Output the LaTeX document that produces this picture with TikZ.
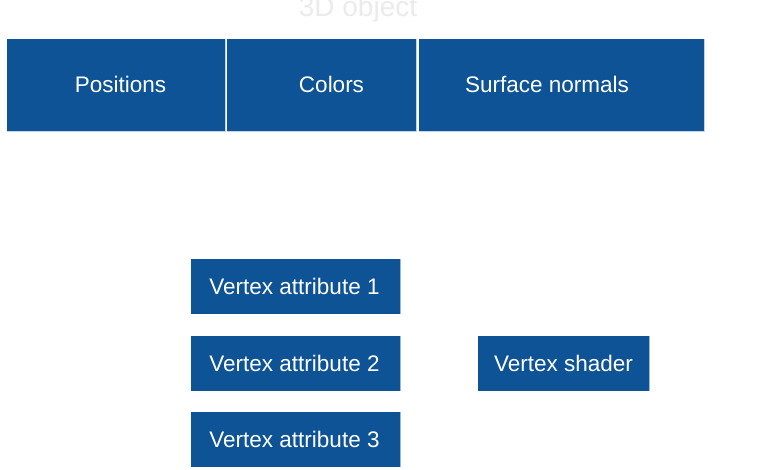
\documentclass[tikz,border=0pt]{standalone}
\usepackage{fontspec}
\setmainfont{Liberation Sans}
\definecolor{boxblue}{HTML}{0D5395}
\definecolor{edgeblue}{HTML}{9DB8D6}
\tikzset{
  blk/.style={fill=boxblue, draw=none, inner sep=0pt, outer sep=0pt},
  lbl/.style={text=white, inner sep=0pt, font=\fontsize{22.5}{26}\selectfont, anchor=base},
  ghost/.style={text=black!8, inner sep=0pt, font=\fontsize{28}{32}\selectfont, anchor=base}
}
\begin{document}
\begin{tikzpicture}[x=1pt,y=-1pt]
  \useasboundingbox (0,0) rectangle (770,470);
  \fill[white] (0,0) rectangle (770,470);

  % heading, mostly cut off by the top edge
  \begin{scope}
    \clip (0,0) rectangle (770,470);
    \node[ghost] (head) at (358,17) {3D object};
  \end{scope}

  % attribute groups of the mesh
  \draw[edgeblue!60, line width=0.6pt, fill=boxblue] (7,39) rectangle (225,131);
  \draw[edgeblue!60, line width=0.6pt, fill=boxblue] (227,39) rectangle (416,131);
  \draw[edgeblue!60, line width=0.6pt, fill=boxblue] (419,39) rectangle (704,131);
  \node[blk, minimum width=218pt, minimum height=92pt] (pos) at (116,85) {};
  \node[blk, minimum width=189pt, minimum height=92pt] (col) at (321.5,85) {};
  \node[blk, minimum width=285pt, minimum height=92pt] (nrm) at (561.5,85) {};
  \node[lbl] (posT) at (120.5,93) {Positions};
  \node[lbl] (colT) at (331.5,93) {Colors};
  \node[lbl] (nrmT) at (547,93) {Surface normals};

  % vertex attributes
  \node[blk, minimum width=209pt, minimum height=55pt] (va1) at (295.5,286.5) {};
  \node[blk, minimum width=209pt, minimum height=55pt] (va2) at (295.5,363.5) {};
  \node[blk, minimum width=209pt, minimum height=55pt] (va3) at (295.5,439.5) {};
  \draw[edgeblue, line width=0.8pt] (va1.north east) -- (va1.south east);
  \draw[edgeblue, line width=0.8pt] (va2.north east) -- (va2.south east);
  \draw[edgeblue, line width=0.8pt] (va3.north east) -- (va3.south east);
  \node[lbl] (va1T) at (294.5,294.5) {Vertex attribute 1};
  \node[lbl] (va2T) at (294.5,371.5) {Vertex attribute 2};
  \node[lbl] (va3T) at (294.5,447.5) {Vertex attribute 3};

  % vertex shader
  \node[blk, minimum width=171pt, minimum height=55pt] (vs) at (563.5,363.5) {};
  \draw[edgeblue, line width=0.8pt] (vs.north east) -- (vs.south east);
  \node[lbl] (vsT) at (563.5,371.5) {Vertex shader};
\end{tikzpicture}
\end{document}
